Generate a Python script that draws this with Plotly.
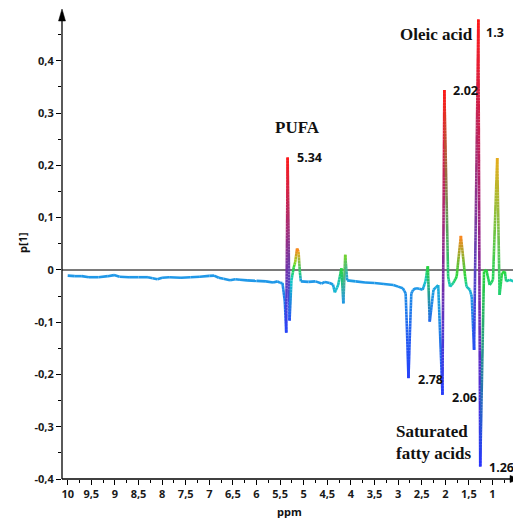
import math
import plotly.graph_objects as go

# ---------------- data ----------------
ppm = [10.00, 9.85, 9.70, 9.55, 9.35, 9.15, 9.02, 8.90, 8.70, 8.50, 8.30, 8.20, 8.10, 8.00,
       7.85, 7.60, 7.40, 7.20, 7.00, 6.90, 6.80, 6.70, 6.56, 6.45, 6.35, 6.20, 6.00, 5.80,
       5.65, 5.55, 5.50, 5.45, 5.40, 5.37, 5.34, 5.30, 5.26, 5.21, 5.18, 5.14, 5.11, 5.08,
       5.06, 4.90, 4.75, 4.62, 4.55, 4.45, 4.38, 4.34, 4.27, 4.20, 4.16, 4.12, 4.08, 3.90,
       3.70, 3.50, 3.30, 3.10, 3.00, 2.90, 2.84, 2.81, 2.78, 2.75, 2.72, 2.68, 2.62, 2.55,
       2.48, 2.42, 2.37, 2.33, 2.25, 2.15, 2.06, 2.02, 1.94, 1.90, 1.83, 1.76, 1.67, 1.58,
       1.55, 1.48, 1.44, 1.39, 1.30, 1.26, 1.18, 1.13, 1.06, 0.99, 0.90, 0.85, 0.80, 0.74,
       0.71, 0.64, 0.55, 0.49]
p1 = [-0.011, -0.012, -0.012, -0.014, -0.014, -0.012, -0.010, -0.013, -0.014, -0.014, -0.014,
      -0.016, -0.018, -0.015, -0.014, -0.015, -0.014, -0.013, -0.0115, -0.011, -0.015, -0.017,
      -0.020, -0.018, -0.019, -0.020, -0.021, -0.022, -0.024, -0.022, -0.025, -0.025, -0.060,
      -0.120, 0.215, -0.097, -0.020, 0.005, 0.015, 0.041, 0.035, -0.005, -0.022, -0.023,
      -0.022, -0.026, -0.023, -0.025, -0.028, -0.043, -0.029, 0.003, -0.064, 0.029, -0.020,
      -0.022, -0.024, -0.025, -0.027, -0.029, -0.032, -0.035, -0.045, -0.120, -0.207, -0.120,
      -0.045, -0.038, -0.035, -0.036, -0.038, -0.022, 0.007, -0.099, -0.038, -0.029, -0.239,
      0.344, -0.013, -0.032, -0.025, -0.013, 0.065, -0.013, -0.032, -0.038, -0.051, -0.153,
      0.479, -0.376, -0.003, 0.000, -0.029, -0.019, 0.214, -0.048, -0.006, -0.003, -0.022,
      -0.019, -0.022, -0.019]
# colour variable (correlation-like, 0 = blue ... 1 = red)
corr = [0.30] * 32 + [0.20, 0.06, 1.00, 0.10, 0.42, 0.55, 0.65, 0.88, 0.80, 0.50, 0.30,
        0.30, 0.30, 0.30, 0.30, 0.30, 0.32, 0.38, 0.40, 0.55, 0.30, 0.62, 0.32, 0.30,
        0.30, 0.30, 0.30, 0.30, 0.30, 0.30, 0.28, 0.15, 0.05, 0.15, 0.28, 0.30, 0.30, 0.30,
        0.32, 0.42, 0.55, 0.18, 0.32, 0.36, 0.04, 1.00, 0.50, 0.42, 0.48, 0.55, 0.86, 0.55,
        0.45, 0.38, 0.30, 0.10, 1.00, 0.00, 0.55, 0.55, 0.50, 0.52, 0.78, 0.50, 0.55, 0.55,
        0.48, 0.45, 0.42, 0.42]

x_tickvals = [10, 9.5, 9, 8.5, 8, 7.5, 7, 6.5, 6, 5.5, 5, 4.5, 4, 3.5, 3, 2.5, 2, 1.5, 1]
x_ticktext = ["10", "9,5", "9", "8,5", "8", "7,5", "7", "6,5", "6", "5,5", "5", "4,5", "4",
              "3,5", "3", "2,5", "2", "1,5", "1"]
y_tickvals = [-0.4, -0.3, -0.2, -0.1, 0, 0.1, 0.2, 0.3, 0.4]
y_ticktext = ["-0,4", "-0,3", "-0,2", "-0,1", "0", "0,1", "0,2", "0,3", "0,4"]

peak_labels = ["5.34", "2.02", "1.3", "2.78", "2.06", "1.26"]

# ---------------- colour scale ----------------
stops = [(0.00, (40, 50, 255)), (0.15, (35, 95, 240)), (0.30, (30, 150, 230)),
         (0.42, (20, 200, 200)), (0.55, (40, 215, 60)), (0.70, (205, 210, 20)),
         (0.85, (255, 140, 30)), (1.00, (255, 25, 25))]


def cmap(c):
    c = min(max(c, 0.0), 1.0)
    for (a, ca), (b, cb) in zip(stops[:-1], stops[1:]):
        if c <= b:
            t = (c - a) / (b - a) if b > a else 0
            return tuple(ca[k] + (cb[k] - ca[k]) * t for k in range(3))
    return stops[-1][1]


groups = {}
for i in range(len(ppm) - 1):
    x0, x1 = ppm[i], ppm[i + 1]
    y0, y1 = p1[i], p1[i + 1]
    c0, c1 = cmap(corr[i]), cmap(corr[i + 1])
    n = max(1, int(abs(y1 - y0) / 0.006) + 1)
    for j in range(n):
        ta, tb = j / n, (j + 1) / n
        tm = (ta + tb) / 2
        col = tuple(int(round((c0[k] + (c1[k] - c0[k]) * tm) / 4) * 4) for k in range(3))
        col = tuple(min(255, v) for v in col)
        key = "rgb(%d,%d,%d)" % col
        xs, ys = groups.setdefault(key, ([], []))
        xs += [x0 + (x1 - x0) * ta, x0 + (x1 - x0) * tb, None]
        ys += [y0 + (y1 - y0) * ta, y0 + (y1 - y0) * tb, None]

fig = go.Figure()
for key, (xs, ys) in groups.items():
    fig.add_trace(go.Scatter(x=xs, y=ys, mode="lines",
                             line=dict(color=key, width=2.6),
                             hoverinfo="skip", showlegend=False))

num_font = dict(family="Open Sans", size=12.5, color="#111111", weight="bold")
ser_font = dict(family="Liberation Serif", size=17, color="#111111", weight="bold")

# label centres, in reference pixel terms (converted to data units below)
label_pos = {"5.34": (309, 158), "2.02": (465.5, 90.5), "1.3": (495, 33),
             "2.78": (430, 380), "2.06": (464.5, 398), "1.26": (501.5, 468)}


def px2ppm(px):
    return 10 - (px - 67.7) / 47.2


def py2val(py):
    return (270 - py) / 523.0


for txt in peak_labels:
    px, py = label_pos[txt]
    fig.add_annotation(x=px2ppm(px), y=py2val(py), text=txt, showarrow=False,
                       font=num_font, xanchor="center", yanchor="middle")

fig.add_annotation(x=px2ppm(297), y=py2val(128), text="PUFA", showarrow=False,
                   font=ser_font, xanchor="center", yanchor="middle")
fig.add_annotation(x=px2ppm(436.5), y=py2val(35), text="Oleic acid", showarrow=False,
                   font=ser_font, xanchor="center", yanchor="middle")
fig.add_annotation(x=px2ppm(394), y=py2val(442.5), text="Saturated<br>fatty acids",
                   showarrow=False, font=ser_font, xanchor="left", yanchor="middle",
                   align="left")

# axis titles
ax_font = dict(family="Open Sans", size=11, color="#111111", weight="bold")
W, H = 456.0, 470.0
fig.add_annotation(xref="paper", yref="paper", x=0, xshift=-40, y=(479 - 243) / H,
                   text="p[1]", textangle=-90, showarrow=False, font=ax_font,
                   xanchor="center", yanchor="middle")
fig.add_annotation(xref="x", yref="paper", x=px2ppm(289.3), y=0, yshift=-32,
                   text="ppm", showarrow=False, font=ax_font,
                   xanchor="center", yanchor="middle")

# axis lines with arrows
fig.add_shape(type="path", xref="paper", yref="paper",
              path="M %f,%f L %f,%f L %f,%f Z" % (-3.5 / W, 1 - 12 / H, 3.5 / W, 1 - 12 / H, 0, 1.0),
              fillcolor="black", line=dict(color="black", width=0.5))
fig.add_shape(type="path", xref="paper", yref="paper",
              path="M %f,%f L %f,%f L %f,%f Z" % (448 / W, -3.5 / H, 448 / W, 3.5 / H, 458.7 / W, 0),
              fillcolor="black", line=dict(color="black", width=0.5))
fig.add_shape(type="line", xref="paper", yref="paper", x0=0, x1=0, y0=0, y1=1 - 8 / H,
              line=dict(color="black", width=1.3))
fig.add_shape(type="line", xref="paper", yref="paper", x0=0, x1=452 / W, y0=0, y1=0,
              line=dict(color="black", width=1.3))

tick_font = dict(family="Open Sans", size=11, color="#1a1a1a", weight="bold")
x_minor = [v / 4 for v in range(2, 41) if v % 2 == 1] + [0.5]
y_minor = [v / 20 for v in range(-7, 10, 2)]

# the page body adds an 8 px offset, so the figure is sized/margined to compensate
fig.update_layout(
    width=513, height=510,
    margin=dict(l=54, r=3, t=1, b=39, autoexpand=False),
    paper_bgcolor="white", plot_bgcolor="white",
    xaxis=dict(range=[px2ppm(62), px2ppm(518)], showgrid=False, zeroline=False,
               showline=False, tickmode="array", tickvals=x_tickvals, ticktext=x_ticktext,
               ticks="outside", ticklen=5, tickcolor="black", tickwidth=1.2,
               tickfont=tick_font, automargin=False,
               minor=dict(tickmode="array", tickvals=x_minor, ticks="outside", ticklen=3,
                          tickcolor="black", tickwidth=1.1, showgrid=False)),
    yaxis=dict(range=[-0.4, py2val(9)], showgrid=False, zeroline=True,
               zerolinecolor="#7a7a7a", zerolinewidth=1.5,
               showline=False, tickmode="array", tickvals=y_tickvals, ticktext=y_ticktext,
               ticks="outside", ticklen=5, tickcolor="black", tickwidth=1.2,
               tickfont=tick_font, automargin=False,
               minor=dict(tickmode="array", tickvals=y_minor, ticks="outside", ticklen=3,
                          tickcolor="black", tickwidth=1.1, showgrid=False)),
)

fig.write_html("out.html")
